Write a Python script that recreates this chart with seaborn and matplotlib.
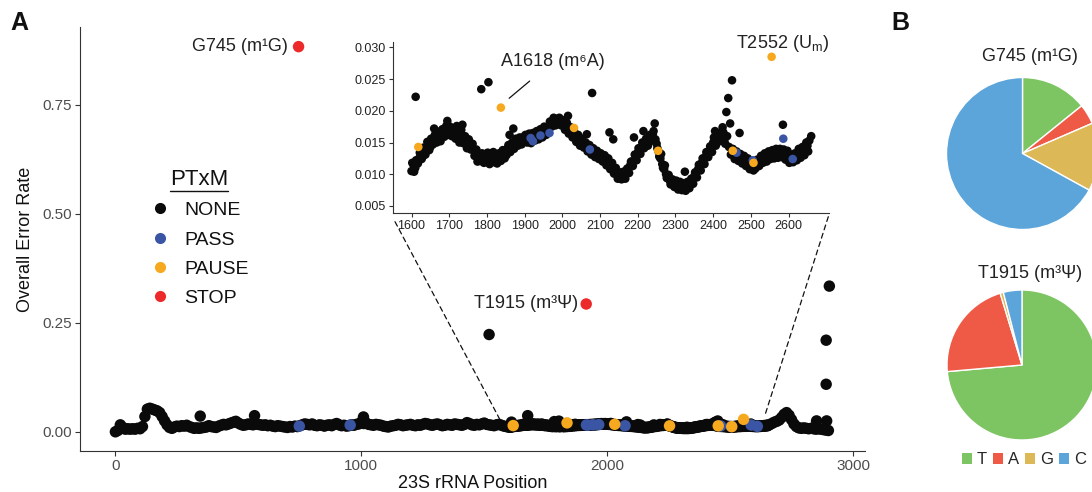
import numpy as np
import pandas as pd
import matplotlib
matplotlib.use("Agg")
import matplotlib.pyplot as plt
import seaborn as sns
from matplotlib.patches import ConnectionPatch, Patch
from matplotlib.lines import Line2D
from matplotlib.ticker import FormatStrFormatter

# ---------------- data ----------------
# overall error rate along 23S rRNA, positions 0..1590 (every 10 nt)
left_err = [0.000, 0.003, 0.016, 0.010, 0.006, 0.007, 0.006, 0.007, 0.006, 0.008,
            0.007, 0.012, 0.035, 0.052, 0.054, 0.052, 0.050, 0.048, 0.044, 0.035,
            0.025, 0.016, 0.010, 0.008, 0.011, 0.013, 0.012, 0.014, 0.013, 0.015,
            0.012, 0.010, 0.008, 0.009, 0.008, 0.009, 0.010, 0.011, 0.014, 0.012,
            0.011, 0.010, 0.013, 0.015, 0.017, 0.016, 0.018, 0.020, 0.022, 0.024,
            0.020, 0.017, 0.015, 0.016, 0.018, 0.017, 0.016, 0.019, 0.017, 0.016,
            0.015, 0.016, 0.014, 0.015, 0.013, 0.012, 0.014, 0.013, 0.012, 0.011,
            0.010, 0.012, 0.011, 0.013, 0.012, 0.014, 0.016, 0.018, 0.017, 0.016,
            0.018, 0.015, 0.014, 0.016, 0.015, 0.013, 0.015, 0.016, 0.014, 0.017,
            0.019, 0.016, 0.014, 0.015, 0.013, 0.014, 0.016, 0.015, 0.017, 0.018,
            0.022, 0.019, 0.020, 0.017, 0.016, 0.015, 0.017, 0.016, 0.015, 0.013,
            0.012, 0.011, 0.013, 0.014, 0.015, 0.017, 0.016, 0.014, 0.015, 0.016,
            0.017, 0.015, 0.014, 0.016, 0.015, 0.017, 0.019, 0.018, 0.016, 0.015,
            0.017, 0.018, 0.016, 0.014, 0.015, 0.017, 0.016, 0.015, 0.018, 0.017,
            0.016, 0.015, 0.017, 0.021, 0.019, 0.016, 0.015, 0.017, 0.016, 0.018,
            0.020, 0.017, 0.016, 0.015, 0.014, 0.016, 0.017, 0.015, 0.013, 0.012]

# positions 1600..2655 (every 5 nt), the zoomed region
mid_err = [0.0105, 0.0115, 0.0110, 0.0122, 0.0125, 0.0132, 0.0128, 0.0137, 0.0140, 0.0146,
           0.0143, 0.0152, 0.0172, 0.0155, 0.0160, 0.0156, 0.0163, 0.0166, 0.0170, 0.0184,
           0.0168, 0.0172, 0.0163, 0.0167, 0.0176, 0.0158, 0.0162, 0.0178, 0.0152, 0.0150,
           0.0146, 0.0149, 0.0141, 0.0138, 0.0132, 0.0120, 0.0129, 0.0126, 0.0124, 0.0130,
           0.0127, 0.0122, 0.0133, 0.0128, 0.0119, 0.0127, 0.0125, 0.0131, 0.0129, 0.0134,
           0.0137, 0.0141, 0.0162, 0.0143, 0.0172, 0.0148, 0.0152, 0.0149, 0.0155, 0.0158,
           0.0153, 0.0160, 0.0157, 0.0152, 0.0158, 0.0162, 0.0159, 0.0164, 0.0161, 0.0167,
           0.0165, 0.0170, 0.0173, 0.0176, 0.0181, 0.0185, 0.0183, 0.0187, 0.0181, 0.0184,
           0.0178, 0.0180, 0.0174, 0.0192, 0.0166, 0.0168, 0.0161, 0.0158, 0.0155, 0.0152,
           0.0149, 0.0151, 0.0145, 0.0163, 0.0141, 0.0138, 0.0136, 0.0133, 0.0130, 0.0134,
           0.0128, 0.0126, 0.0123, 0.0127, 0.0119, 0.0166, 0.0113, 0.0155, 0.0105, 0.0100,
           0.0097, 0.0094, 0.0099, 0.0097, 0.0103, 0.0108, 0.0114, 0.0120, 0.0158, 0.0128,
           0.0134, 0.0138, 0.0143, 0.0168, 0.0148, 0.0152, 0.0156, 0.0160, 0.0163, 0.0180,
           0.0148, 0.0136, 0.0125, 0.0116, 0.0108, 0.0100, 0.0094, 0.0090, 0.0087, 0.0086,
           0.0084, 0.0080, 0.0083, 0.0078, 0.0080, 0.0104, 0.0079, 0.0083, 0.0087, 0.0092,
           0.0097, 0.0102, 0.0108, 0.0113, 0.0118, 0.0123, 0.0128, 0.0133, 0.0137, 0.0142,
           0.0150, 0.0168, 0.0157, 0.0160, 0.0162, 0.0174, 0.0155, 0.0198, 0.0220, 0.0180,
           0.0248, 0.0135, 0.0130, 0.0128, 0.0165, 0.0126, 0.0124, 0.0121, 0.0119, 0.0116,
           0.0113, 0.0111, 0.0114, 0.0117, 0.0119, 0.0122, 0.0124, 0.0127, 0.0125, 0.0129,
           0.0131, 0.0128, 0.0132, 0.0130, 0.0134, 0.0131, 0.0133, 0.0178, 0.0129, 0.0132,
           0.0127, 0.0124, 0.0126, 0.0123, 0.0128, 0.0131, 0.0133, 0.0136, 0.0138, 0.0140,
           0.0145, 0.0153]

# positions 1602..2652 (every 5 nt), interleaved readings of the same region
mid_err_b = [0.0118, 0.0104, 0.0122, 0.0117, 0.0134, 0.0124, 0.0142, 0.0131, 0.0151, 0.0138,
             0.0156, 0.0147, 0.0162, 0.0150, 0.0167, 0.0152, 0.0171, 0.0159, 0.0176, 0.0162,
             0.0175, 0.0160, 0.0172, 0.0156, 0.0168, 0.0150, 0.0170, 0.0149, 0.0160, 0.0141,
             0.0155, 0.0139, 0.0148, 0.0129, 0.0139, 0.0126, 0.0121, 0.0133, 0.0118, 0.0123,
             0.0134, 0.0116, 0.0124, 0.0135, 0.0126, 0.0117, 0.0133, 0.0121, 0.0138, 0.0125,
             0.0130, 0.0146, 0.0135, 0.0150, 0.0140, 0.0156, 0.0145, 0.0158, 0.0147, 0.0151,
             0.0162, 0.0150, 0.0164, 0.0149, 0.0165, 0.0153, 0.0168, 0.0155, 0.0171, 0.0158,
             0.0175, 0.0162, 0.0168, 0.0183, 0.0175, 0.0189, 0.0177, 0.0180, 0.0189, 0.0177,
             0.0185, 0.0170, 0.0181, 0.0164, 0.0174, 0.0158, 0.0166, 0.0151, 0.0162, 0.0145,
             0.0156, 0.0142, 0.0150, 0.0136, 0.0146, 0.0131, 0.0141, 0.0127, 0.0137, 0.0124,
             0.0133, 0.0120, 0.0130, 0.0114, 0.0125, 0.0108, 0.0118, 0.0101, 0.0110, 0.0093,
             0.0103, 0.0092, 0.0104, 0.0093, 0.0109, 0.0102, 0.0120, 0.0113, 0.0131, 0.0122,
             0.0141, 0.0132, 0.0150, 0.0141, 0.0156, 0.0145, 0.0162, 0.0153, 0.0168, 0.0155,
             0.0141, 0.0128, 0.0132, 0.0110, 0.0114, 0.0094, 0.0099, 0.0084, 0.0092, 0.0080,
             0.0090, 0.0076, 0.0088, 0.0075, 0.0086, 0.0074, 0.0088, 0.0078, 0.0093, 0.0085,
             0.0103, 0.0095, 0.0115, 0.0106, 0.0125, 0.0116, 0.0135, 0.0127, 0.0144, 0.0135,
             0.0158, 0.0145, 0.0165, 0.0152, 0.0157, 0.0166, 0.0148, 0.0160, 0.0143, 0.0131,
             0.0140, 0.0124, 0.0136, 0.0121, 0.0132, 0.0117, 0.0129, 0.0113, 0.0125, 0.0108,
             0.0120, 0.0106, 0.0109, 0.0123, 0.0113, 0.0129, 0.0118, 0.0133, 0.0120, 0.0136,
             0.0124, 0.0138, 0.0125, 0.0140, 0.0126, 0.0140, 0.0127, 0.0139, 0.0123, 0.0137,
             0.0118, 0.0131, 0.0119, 0.0133, 0.0122, 0.0140, 0.0126, 0.0143, 0.0130, 0.0150,
             0.0136]

# positions 2660..2900 (every 10 nt)
right_err = [0.016, 0.019, 0.022, 0.024, 0.027, 0.033, 0.040, 0.044, 0.038, 0.028,
             0.018, 0.012, 0.009, 0.008, 0.009, 0.008, 0.007, 0.008, 0.007, 0.006,
             0.007, 0.006, 0.005, 0.004, 0.003]

# isolated unmodified positions
none_extra_pos = [345, 566, 1009, 1520, 1611, 1677, 1785, 1804, 2079, 2852, 2893, 2891, 2891, 2904]
none_extra_err = [0.036, 0.037, 0.034, 0.223, 0.0222, 0.037, 0.0234, 0.0245, 0.0228,
                  0.025, 0.025, 0.109, 0.210, 0.334]

pass_pos = [748, 955, 1916, 1922, 1942, 1966, 2073, 2462, 2505, 2586, 2611]
pass_err = [0.013, 0.0155, 0.0157, 0.0152, 0.0161, 0.0165, 0.0139, 0.0134, 0.0122, 0.0156, 0.0124]

pause_pos = [1618, 1837, 2031, 2254, 2452, 2507, 2555]
pause_err = [0.0143, 0.0205, 0.0173, 0.0137, 0.0137, 0.0118, 0.0285]

stop_pos = [745, 1915]
stop_err = [0.883, 0.293]

ptxm_order = ["NONE", "PASS", "PAUSE", "STOP"]
ptxm_colors = ["#0a0a0a", "#3B55A5", "#F6A91E", "#EC2A2A"]

pie_bases = ["T", "A", "G", "C"]
pie_colors = ["#7DC462", "#EE5A45", "#DDB857", "#5BA5DB"]
g745_frac = [14.2, 4.3, 14.5, 67.0]
t1915_frac = [73.6, 21.7, 0.7, 4.0]

# ---------------- assemble ----------------
none_pos = (list(range(0, 1600, 10)) + list(range(1600, 1600 + 5 * len(mid_err), 5)) +
            list(range(1602, 1602 + 5 * len(mid_err_b), 5)) +
            list(range(2660, 2660 + 10 * len(right_err), 10)) + none_extra_pos)
none_err = left_err + mid_err + mid_err_b + right_err + none_extra_err
df = pd.concat([
    pd.DataFrame({"pos": none_pos, "err": none_err, "ptxm": "NONE"}),
    pd.DataFrame({"pos": pass_pos, "err": pass_err, "ptxm": "PASS"}),
    pd.DataFrame({"pos": pause_pos, "err": pause_err, "ptxm": "PAUSE"}),
    pd.DataFrame({"pos": stop_pos, "err": stop_err, "ptxm": "STOP"}),
], ignore_index=True)
pal = dict(zip(ptxm_order, ptxm_colors))

# ---------------- style ----------------
sns.set_style("ticks")
FAM = ["Liberation Sans", "DejaVu Sans"]
plt.rcParams["font.family"] = FAM
plt.rcParams["axes.edgecolor"] = "#333333"
plt.rcParams["axes.linewidth"] = 0.8

W, H = 1092, 492
fig = plt.figure(figsize=(W / 100, H / 100), dpi=100)


def box(l, t, r, b):
    return [l / W, 1 - b / H, (r - l) / W, (b - t) / H]


# ---------------- main panel ----------------
ax = fig.add_axes(box(80, 27, 865, 451))
sns.scatterplot(data=df, x="pos", y="err", hue="ptxm", hue_order=ptxm_order,
                palette=pal, s=68, linewidth=0, legend=False, ax=ax, zorder=3)
ax.set_xlim(-144, 3049)
ax.set_ylim(-0.044, 0.928)
ax.set_xticks([0, 1000, 2000, 3000])
ax.set_yticks([0.0, 0.25, 0.5, 0.75])
ax.yaxis.set_major_formatter(FormatStrFormatter("%.2f"))
ax.tick_params(length=3.5, width=0.8, color="#333333", labelsize=11,
               labelcolor="#4D4D4D", pad=2)
sns.despine(ax=ax)
ax.set_xlabel("23S rRNA Position", fontsize=13, color="#111111", labelpad=2)
ax.set_ylabel("Overall Error Rate", fontsize=13, color="#111111", labelpad=6)

ax.annotate("G745 (m¹G)", xy=(745, 0.883), xytext=(-7.5, 0), textcoords="offset points",
            ha="right", va="center", fontsize=13, color="#222222")
ax.annotate("T1915 (m³Ψ)", xy=(1915, 0.293), xytext=(-6, 0), textcoords="offset points",
            ha="right", va="center", fontsize=13, color="#222222")

handles = [Line2D([], [], marker="o", linestyle="", markersize=8, markeredgewidth=0,
                  color=c) for c in ptxm_colors]
leg = ax.legend(handles, ptxm_order, title="PTxM", loc="upper left",
                bbox_to_anchor=(150 / W, 1 - 169 / H), bbox_transform=fig.transFigure,
                frameon=False, fontsize=14, title_fontsize=16, handlelength=1.0,
                handletextpad=0.75, labelspacing=0.6, borderpad=0, borderaxespad=0)
for t in leg.get_texts():
    t.set_color("#111111")
leg.get_title().set_color("#111111")

# ---------------- inset ----------------
axi = fig.add_axes(box(392.5, 41.7, 829.3, 213.3))
dfi = df[(df.pos >= 1595) & (df.pos <= 2660) & (df.err < 0.031)]
sns.scatterplot(data=dfi, x="pos", y="err", hue="ptxm", hue_order=ptxm_order,
                palette=pal, s=38, linewidth=0, legend=False, ax=axi, zorder=3)
axi.set_xlim(1549.6, 2708)
axi.set_ylim(0.00385, 0.03088)
axi.set_xticks(list(range(1600, 2700, 100)))
axi.set_yticks([0.005, 0.010, 0.015, 0.020, 0.025, 0.030])
axi.yaxis.set_major_formatter(FormatStrFormatter("%.3f"))
axi.tick_params(length=3, width=0.8, color="#333333", labelsize=9,
                labelcolor="#222222", pad=2)
axi.set_xlabel("")
axi.set_ylabel("")
axi.patch.set_alpha(0)
sns.despine(ax=axi)
axi.annotate("A1618 (m⁶A)", xy=(1859, 0.02197), xytext=(1976, 0.0278),
             textcoords="data", ha="center", va="center", fontsize=13, color="#222222",
             arrowprops=dict(arrowstyle="-", color="#111111", lw=0.9,
                             shrinkA=9, shrinkB=0))
axi.text(2585, 0.0306, "T2552 (U$_\\mathregular{m}$)", ha="center", va="center",
         fontsize=13, color="#222222", clip_on=False)

for xa, ya, xb, yb in [(395, 221.7, 1565, 0.027), (828.3, 216.7, 2642, 0.038)]:
    cp = ConnectionPatch(xyA=(xa, H - ya), coordsA="figure pixels",
                         xyB=(xb, yb), coordsB=ax.transData,
                         linestyle=(0, (4, 3)), color="#111111", lw=0.9)
    fig.add_artist(cp)

# ---------------- pies ----------------
for (cx, cy, r), frac in [((1022.5, 153.5, 76), g745_frac), ((1022, 365, 75), t1915_frac)]:
    pa = fig.add_axes(box(cx - r, cy - r, cx + r, cy + r))
    pa.pie(frac, colors=pie_colors, startangle=90, counterclock=False,
           wedgeprops=dict(edgecolor="white", linewidth=1.0))
    pa.set_xlim(-1, 1)
    pa.set_ylim(-1, 1)
    pa.set_aspect("equal")
    pa.axis("off")

fig.text(1030 / W, 1 - 56.7 / H, "G745 (m¹G)", ha="center", va="center", fontsize=13,
         color="#222222")
fig.text(1030 / W, 1 - 273 / H, "T1915 (m³Ψ)", ha="center", va="center", fontsize=13,
         color="#222222")

pie_handles = [Patch(facecolor=c, edgecolor="none") for c in pie_colors]
fig.legend(pie_handles, pie_bases, loc="center left", ncol=4,
           bbox_to_anchor=(962 / W, 1 - 460 / H), frameon=False, fontsize=12,
           handlelength=0.6, handleheight=0.6, handletextpad=0.3, columnspacing=0.35,
           borderpad=0, borderaxespad=0)

fig.text(19 / W, 1 - 23 / H, "A", ha="center", va="center", fontsize=18,
         fontweight="bold", color="#111111")
fig.text(900.5 / W, 1 - 23 / H, "B", ha="center", va="center", fontsize=18,
         fontweight="bold", color="#111111")

# underline the legend title
fig.canvas.draw()
bb = leg.get_title().get_window_extent()
fig.add_artist(Line2D([bb.x0 / W, bb.x1 / W], [(bb.y0 - 0.5) / H, (bb.y0 - 0.5) / H],
                      transform=fig.transFigure, color="#111111", lw=1.0))

fig.savefig("out.png", dpi=100)
